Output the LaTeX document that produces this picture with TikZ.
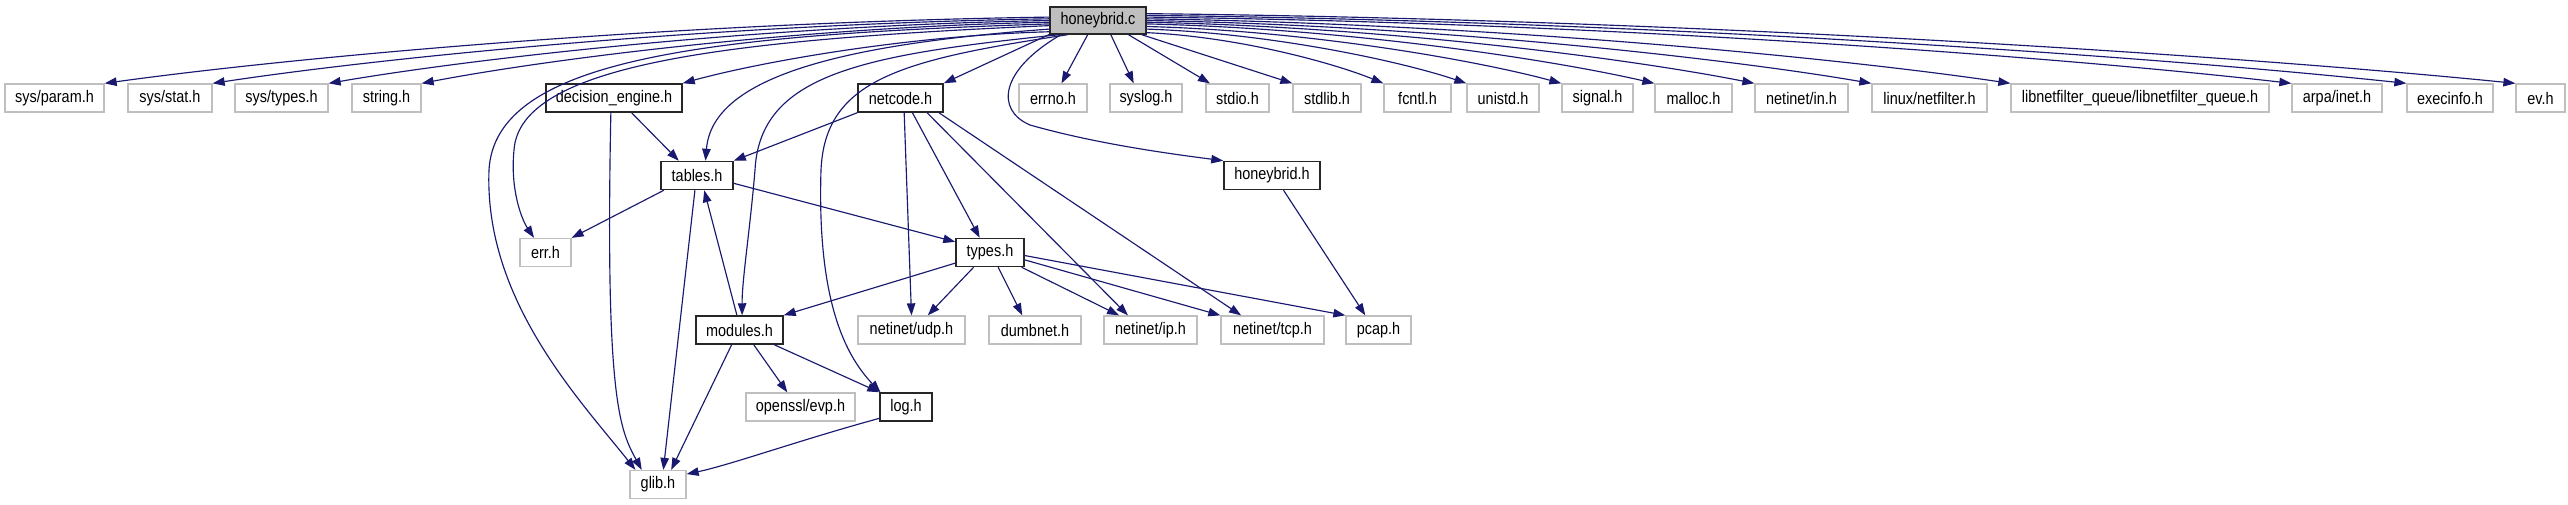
\documentclass[tikz,border=0pt]{standalone}
\usepackage{fontspec}
\setmainfont{Liberation Sans}[FakeStretch=0.86]
\usetikzlibrary{arrows.meta}
\definecolor{edgeblue}{HTML}{191970}
\definecolor{extgray}{HTML}{BFBFBF}
\definecolor{curgray}{HTML}{BFBFBF}
\newcommand{\nfs}{\fontsize{16.8}{19}\selectfont}
\tikzset{
  basebox/.style={draw, rectangle, inner sep=0pt, minimum height=28pt, font=\nfs, text=black, fill=white, line width=1.3pt},
  ext/.style={basebox, draw=extgray},
  doc/.style={basebox, draw=black!85, line width=1.5pt},
  cur/.style={basebox, draw=black!85, line width=1.5pt, fill=curgray, minimum height=27pt},
  e/.style={draw=edgeblue, line width=1.15pt, -{Triangle[length=12pt,width=8.5pt]}}
}
\begin{document}
\begin{tikzpicture}[x=1pt,y=-1pt]
\fill[white] (0,0) rectangle (2568,504);
\useasboundingbox (0,0) rectangle (2568,504);
% nodes
\node[cur, minimum width=96pt] (hc) at (1098,20.5) {honeybrid.c};
\node[ext, minimum width=99pt] (sysparam) at (54.5,98) {sys/param.h};
\node[ext, minimum width=84pt] (sysstat) at (170,98) {sys/stat.h};
\node[ext, minimum width=93pt] (systypes) at (281.5,98) {sys/types.h};
\node[ext, minimum width=69pt] (string) at (386.5,98) {string.h};
\node[doc, minimum width=136pt] (decision) at (614,98) {decision\_engine.h};
\node[doc, minimum width=85pt] (netcode) at (900.5,98) {netcode.h};
\node[ext, minimum width=68pt] (errno) at (1053,98) {errno.h};
\node[ext, minimum width=72pt] (syslog) at (1146,98) {syslog.h};
\node[ext, minimum width=63pt] (stdio) at (1237.5,98) {stdio.h};
\node[ext, minimum width=68pt] (stdlib) at (1327,98) {stdlib.h};
\node[ext, minimum width=67pt] (fcntl) at (1417.5,98) {fcntl.h};
\node[ext, minimum width=72pt] (unistd) at (1503,98) {unistd.h};
\node[ext, minimum width=71pt] (signal) at (1597.5,98) {signal.h};
\node[ext, minimum width=77pt] (malloc) at (1693.5,98) {malloc.h};
\node[ext, minimum width=93pt] (netinetin) at (1801.5,98) {netinet/in.h};
\node[ext, minimum width=115pt] (netfilter) at (1929.5,98) {linux/netfilter.h};
\node[ext, minimum width=258pt] (nfq) at (2140,98) {libnetfilter\_queue/libnetfilter\_queue.h};
\node[ext, minimum width=90pt] (arpa) at (2337,98) {arpa/inet.h};
\node[ext, minimum width=86pt] (execinfo) at (2450,98) {execinfo.h};
\node[ext, minimum width=49pt] (ev) at (2540.5,98) {ev.h};
\node[doc, minimum width=72pt] (tables) at (697,175.5) {tables.h};
\node[doc, minimum width=96pt] (honeybridh) at (1272,175.5) {honeybrid.h};
\node[ext, minimum width=51pt] (err) at (545.5,252.5) {err.h};
\node[doc, minimum width=68pt] (types) at (990,252.5) {types.h};
\node[doc, minimum width=87pt] (modules) at (739.5,330) {modules.h};
\node[ext, minimum width=107pt] (udp) at (911.5,330) {netinet/udp.h};
\node[ext, minimum width=92pt] (dumbnet) at (1035,330) {dumbnet.h};
\node[ext, minimum width=93pt] (ip) at (1150.5,330) {netinet/ip.h};
\node[ext, minimum width=103pt] (tcp) at (1272.5,330) {netinet/tcp.h};
\node[ext, minimum width=65pt] (pcap) at (1378.5,330) {pcap.h};
\node[ext, minimum width=109pt] (evp) at (800.5,407) {openssl/evp.h};
\node[doc, minimum width=52pt] (log) at (906,407) {log.h};
\node[ext, minimum width=56pt] (glib) at (658,484.5) {glib.h};
% edges from honeybrid.c, left
\draw[e] (hc.176) .. controls (672,22.5) and (293,57.2) .. (sysparam.north east);
\draw[e] (hc.178) .. controls (715,24) and (380,57.9) .. (sysstat.north east);
\draw[e] (hc.180) .. controls (761,25.6) and (472,58.6) .. (systypes.north east);
\draw[e] (hc.182) .. controls (798,27.1) and (547,59.3) .. (string.north east);
\draw[e] (hc.193) .. controls (903,35.8) and (756,63) .. (decision.north east);
\draw[e] (hc.196) -- (netcode.north east);
\draw[e] (hc.184) .. controls (700,35) and (495,60) .. (489,170) .. controls (484,300) and (580,400) .. (glib.147);
\draw[e] (hc.186) .. controls (720,40) and (520,65) .. (514,150) .. controls (510,190) and (522,220) .. (err.128);
\draw[e] (hc.190) .. controls (830,45) and (712,80) .. (tables.60);
\draw[e] (hc.200) .. controls (860,55) and (760,75) .. (755,170) .. controls (750,230) and (742,280) .. (modules.80);
\draw[e] (hc.205) .. controls (900,60) and (825,80) .. (821,170) .. controls (817,300) and (845,355) .. (log.150);
\draw[e] (hc.201) .. controls (1000,70) and (995,110) .. (1030,125) .. controls (1100,145) and (1180,155) .. (honeybridh.north west);
% edges from honeybrid.c, right
\draw[e] (hc.234) -- (errno.60);
\draw[e] (hc.312) -- (syslog.130);
\draw[e] (hc.335) -- (stdio.152);
\draw[e] (hc.342) -- (stdlib.north west);
\draw[e] (hc.346) .. controls (1241,37) and (1336,64) .. (fcntl.north west);
\draw[e] (hc.350) .. controls (1274,33.4) and (1403,62) .. (unistd.north west);
\draw[e] (hc.353) .. controls (1312,31) and (1479,61) .. (signal.north west);
\draw[e] (hc.356) .. controls (1350,28.7) and (1553,60) .. (malloc.north west);
\draw[e] (hc.358) .. controls (1390,27.1) and (1633,59.3) .. (netinetin.north west);
\draw[e] (hc.0) .. controls (1436,25.6) and (1727,58.6) .. (netfilter.north west);
\draw[e] (hc.2) .. controls (1492,24) and (1838,57.9) .. (nfq.north west);
\draw[e] (hc.4) .. controls (1604,22.5) and (2063,57.2) .. (arpa.north west);
\draw[e] (hc.6) .. controls (1650,21) and (2155,56.6) .. (execinfo.north west);
\draw[e] (hc.8) .. controls (1694,19.4) and (2242,55.9) .. (ev.north west);
% other edges
\draw[e] (decision.320) -- (tables.141);
\draw[e] (decision.258) .. controls (605,400) and (620,430) .. (glib.138);
\draw[e] (netcode.south west) -- (tables.north east);
\draw[e] (netcode.-76) -- (udp.north);
\draw[e] (netcode.-51) -- (types.125);
\draw[e] (netcode.-29) -- (ip.147);
\draw[e] (netcode.-21) -- (tcp.155);
\draw[e] (tables.204) -- (err.north east);
\draw[e] (tables.262) -- (glib.70);
\draw[e] (tables.-12) -- (types.163);
\draw[e] (modules.100) -- (tables.-64);
\draw[e] (types.197) -- (modules.north east);
\draw[e] (types.222) -- (udp.42);
\draw[e] (types.-61) -- (dumbnet.131);
\draw[e] (types.-25) -- (ip.155);
\draw[e] (types.-12) -- (tcp.north west);
\draw[e] (types.-5) -- (pcap.north west);
\draw[e] (honeybridh.-52) -- (pcap.132);
\draw[e] (modules.242) -- (glib.48);
\draw[e] (modules.-46) -- (evp.132);
\draw[e] (modules.-23) -- (log.north west);
\draw[e] (log.203) .. controls (800,440) and (730,465) .. (glib.20);
\end{tikzpicture}
\end{document}
